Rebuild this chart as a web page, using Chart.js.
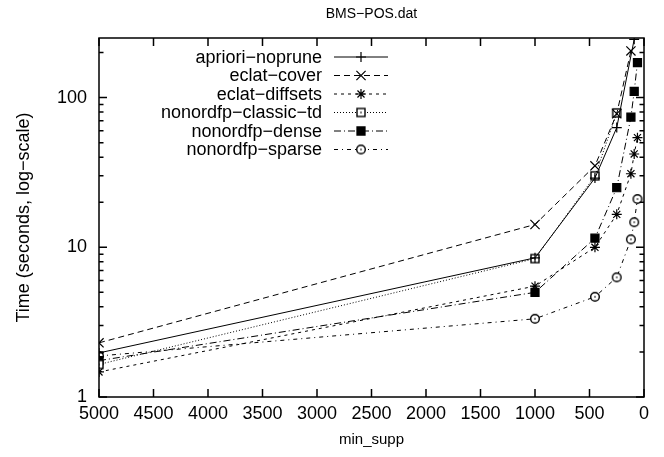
<!DOCTYPE html>
<html>
<head>
<meta charset="utf-8">
<script src="https://cdn.jsdelivr.net/npm/chart.js@4.4.0/dist/chart.umd.min.js"></script>
<style>
  html, body { margin: 0; padding: 0; background: #fff; }
  #wrap { width: 664px; height: 457px; }
</style>
</head>
<body>
<div id="wrap"><canvas id="myChart" width="664" height="457"></canvas></div>
<script>
// data (min_supp -> seconds), null = no point
const minSupp = [5000, 1000, 450, 250, 120, 90, 60];
const aprioriNoprune = [1.97, 8.5, 29, 63, null, 245, null];
const eclatCover = [2.3, 14.2, 35, 78, 205, null, null];
const eclatDiffsets = [1.47, 5.5, 10, 16.6, 31, 42, 54];
const nonordfpClassicTd = [1.65, 8.4, 30, 79, null, null, null];
const nonordfpDense = [1.75, 5.0, 11.5, 25, 74, 110, 171];
const nonordfpSparse = [1.88, 3.33, 4.67, 6.3, 11.3, 14.7, 21];

const seriesNames = ["apriori−noprune", "eclat−cover", "eclat−diffsets",
  "nonordfp−classic−td", "nonordfp−dense", "nonordfp−sparse"];
const yTickLabels = [1, 10, 100];
const chartTitle = "BMS−POS.dat";

const FONT = '"Liberation Sans", Arial, Helvetica, sans-serif';
Chart.defaults.font.family = FONT;
Chart.defaults.color = "#000";

// gnuplot-ish markers with a centre dot
function dotMarker(kind) {
  const c = document.createElement("canvas");
  c.width = 12; c.height = 12;
  const g = c.getContext("2d");
  g.fillStyle = "#fff";
  g.strokeStyle = "#000";
  g.lineWidth = 1.4;
  if (kind === "square") {
    g.fillRect(2, 2, 8, 8);
    g.strokeRect(2, 2, 8, 8);
  } else {
    g.beginPath();
    g.arc(6, 6, 4.3, 0, Math.PI * 2);
    g.fill();
    g.stroke();
  }
  g.fillStyle = "#000";
  g.fillRect(5.3, 5.3, 1.4, 1.4);
  return c;
}

const styles = [
  { dash: [], point: "cross", r: 5, fill: "#000" },
  { dash: [6, 4], point: "crossRot", r: 6.5, fill: "#000" },
  { dash: [3, 4], point: "star", r: 5, fill: "#000" },
  { dash: [1, 2], point: dotMarker("square"), r: 5, fill: "#fff" },
  { dash: [7, 3, 1, 3], point: "rect", r: 5.7, fill: "#000" },
  { dash: [4, 4, 1, 4], point: dotMarker("circle"), r: 4, fill: "#fff" }
];

const allSeries = [aprioriNoprune, eclatCover, eclatDiffsets,
  nonordfpClassicTd, nonordfpDense, nonordfpSparse];

function pts(vals) {
  return minSupp.map((x, i) => ({ x: x, y: vals[i] })).filter(p => p.y != null);
}

const datasets = allSeries.map((vals, i) => ({
  label: seriesNames[i],
  data: pts(vals),
  borderColor: "#000",
  backgroundColor: styles[i].fill,
  borderWidth: 1,
  borderDash: styles[i].dash,
  pointStyle: styles[i].point,
  pointRadius: styles[i].r,
  pointBorderWidth: 1.2,
  pointBorderColor: "#000",
  pointBackgroundColor: styles[i].fill,
  tension: 0
}));

const frame = {
  id: "frame",
  afterDraw(chart) {
    const ctx = chart.ctx;
    const { left, right, top, bottom } = chart.chartArea;
    const xs = chart.scales.x, ys = chart.scales.y;
    ctx.save();
    ctx.strokeStyle = "#000";
    ctx.lineWidth = 1.5;
    ctx.setLineDash([]);
    ctx.strokeRect(left, top, right - left, bottom - top);
    ctx.beginPath();
    // y ticks, major and minor, on both sides
    for (let d = 1; d <= 100; d *= 10) {
      for (let m = 1; m <= 9; m++) {
        const v = d * m;
        if (v > ys.max) break;
        const py = ys.getPixelForValue(v);
        const len = m === 1 ? 8 : 4.5;
        ctx.moveTo(left, py); ctx.lineTo(left + len, py);
        ctx.moveTo(right, py); ctx.lineTo(right - len, py);
      }
    }
    // x ticks on bottom and top
    for (let v = 0; v <= 5000; v += 500) {
      const px = xs.getPixelForValue(v);
      ctx.moveTo(px, bottom); ctx.lineTo(px, bottom - 8);
      ctx.moveTo(px, top); ctx.lineTo(px, top + 8);
    }
    ctx.stroke();

    // title over the plot
    ctx.fillStyle = "#000";
    ctx.font = "14px " + FONT;
    ctx.textAlign = "center";
    ctx.textBaseline = "middle";
    ctx.fillText(chartTitle, (left + right) / 2, 14);

    // key
    const rowY = [57, 75.5, 94, 112.5, 131, 149.5];
    const textRight = 322, s1 = 334, s2 = 388, mx = 361;
    ctx.font = "18px " + FONT;
    ctx.textAlign = "right";
    chart.data.datasets.forEach((ds, i) => {
      const y = rowY[i];
      ctx.fillStyle = "#000";
      ctx.fillText(ds.label, textRight, y + 1);
      ctx.strokeStyle = "#000";
      ctx.lineWidth = 1;
      ctx.setLineDash(ds.borderDash);
      ctx.beginPath();
      ctx.moveTo(s1, y); ctx.lineTo(s2, y);
      ctx.stroke();
      ctx.setLineDash([]);
      ctx.fillStyle = ds.pointBackgroundColor;
      ctx.lineWidth = 1.2;
      Chart.helpers.drawPoint(ctx, {
        pointStyle: ds.pointStyle, radius: ds.pointRadius,
        borderWidth: 1.2, rotation: 0
      }, mx, y);
    });
    ctx.restore();
  }
};

new Chart(document.getElementById("myChart"), {
  type: "line",
  data: { datasets: datasets },
  options: {
    responsive: false,
    animation: false,
    devicePixelRatio: 1,
    layout: { padding: { left: 0, right: 20, top: 38, bottom: 0 } },
    plugins: {
      legend: { display: false },
      tooltip: { enabled: false },
      title: { display: false }
    },
    scales: {
      x: {
        type: "linear",
        reverse: true,
        min: 0,
        max: 5000,
        ticks: {
          stepSize: 500, padding: 6, font: { size: 18 }, maxRotation: 0, autoSkip: false,
          callback: v => String(v)
        },
        grid: { display: false, drawTicks: false },
        border: { display: false },
        title: { display: true, text: "min_supp", font: { size: 15 }, padding: { top: 0, bottom: 8.6 } },
        afterFit: s => { s.height = 60; }
      },
      y: {
        type: "logarithmic",
        min: 1,
        max: 250,
        afterBuildTicks: s => { s.ticks = yTickLabels.map(v => ({ value: v })); },
        ticks: { padding: 12, font: { size: 18 }, callback: v => String(v) },
        grid: { display: false, drawTicks: false },
        border: { display: false },
        title: { display: true, text: "Time (seconds, log−scale)", font: { size: 18 }, padding: { top: 13, bottom: 0 } },
        afterFit: s => { s.width = 99; }
      }
    }
  },
  plugins: [frame]
});
</script>
</body>
</html>
